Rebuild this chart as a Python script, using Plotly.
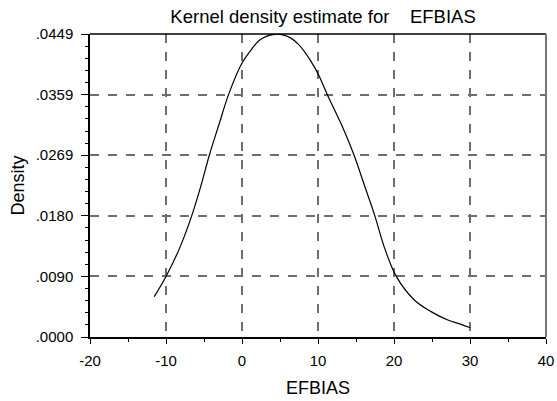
import plotly.graph_objects as go

# Kernel density estimate for EFBIAS
efbias_x = [-11.55, -10, -8.24, -6.62, -5.38, -4.3, -3.0, -1.77, 0, 1.23, 2.42,
            4.6, 6.38, 7.5, 9.0, 10.1, 11.23, 12.2, 13.2, 14.75, 16.16, 17.48, 18.7,
            20.3, 22.67, 24.87, 27.08, 28.8, 30.05]
density_y = [0.00598, 0.00898, 0.0131, 0.01796, 0.0225, 0.02694, 0.0316, 0.03592,
             0.0406, 0.0426, 0.0441, 0.0449, 0.04434, 0.0433, 0.0410, 0.0388,
             0.03592, 0.0336, 0.0312, 0.02694, 0.0223, 0.01796, 0.0134, 0.00898,
             0.00549, 0.00376, 0.00252, 0.00188, 0.00138]

x_ticks = [-20, -10, 0, 10, 20, 30, 40]
x_ticktext = ["-20", "-10", "0", "10", "20", "30", "40"]
y_ticks = [0.0, 0.00898, 0.01796, 0.02694, 0.03592, 0.0449]
y_ticktext = [".0000", ".0090", ".0180", ".0269", ".0359", ".0449"]

FONT = "Liberation Sans, Arial, sans-serif"
GRID = "#6e6e6e"

fig = go.Figure()
fig.add_trace(go.Scatter(x=efbias_x, y=density_y, mode="lines",
                         line=dict(color="black", width=1.2, shape="spline", smoothing=1.0),
                         showlegend=False, hoverinfo="skip"))

fig.update_layout(
    width=557, height=401,
    margin=dict(l=90, r=11, t=34, b=64),
    paper_bgcolor="white", plot_bgcolor="white",
    font=dict(family=FONT, size=15, color="black"),
    title=dict(text="Kernel density estimate for    EFBIAS", x=0.58, xanchor="center",
               y=0.959, yanchor="middle", font=dict(size=18.5, family=FONT)),
    xaxis=dict(
        range=[-20, 40], tickmode="array", tickvals=x_ticks, ticktext=x_ticktext,
        ticks="outside", ticklen=5, tickcolor="black", tickwidth=1,
        showline=True, linecolor="black", linewidth=1.5,
        showgrid=True, gridcolor=GRID, gridwidth=1.5, griddash="dash",
        zeroline=False, ticklabelstandoff=4, automargin=False,
        minor=dict(tickmode="linear", tick0=-20, dtick=5, ticks="outside",
                   ticklen=3, tickcolor="black", showgrid=False),
        title=dict(text="EFBIAS", standoff=14, font=dict(size=18)),
    ),
    yaxis=dict(
        range=[0, 0.04491], tickmode="array", tickvals=y_ticks, ticktext=y_ticktext,
        ticks="outside", ticklen=7, tickcolor="black", tickwidth=1,
        showline=True, linecolor="black", linewidth=1.5,
        showgrid=True, gridcolor=GRID, gridwidth=1.5, griddash="dash",
        zeroline=False, ticklabelstandoff=5, automargin=False,
        minor=dict(tickmode="linear", tick0=0, dtick=0.0449 / 25, ticks="outside",
                   ticklen=3, tickcolor="black", showgrid=False),
        title=dict(text="Density", standoff=6, font=dict(size=18)),
    ),
)

# frame: black top line, grey right line
fig.add_shape(type="line", xref="paper", yref="paper", x0=0, x1=1, y0=1, y1=1,
              line=dict(color="black", width=1.5))
fig.add_shape(type="line", xref="paper", yref="paper", x0=1, x1=1, y0=0, y1=1,
              line=dict(color="#777777", width=2))

fig.write_html("out.html")
